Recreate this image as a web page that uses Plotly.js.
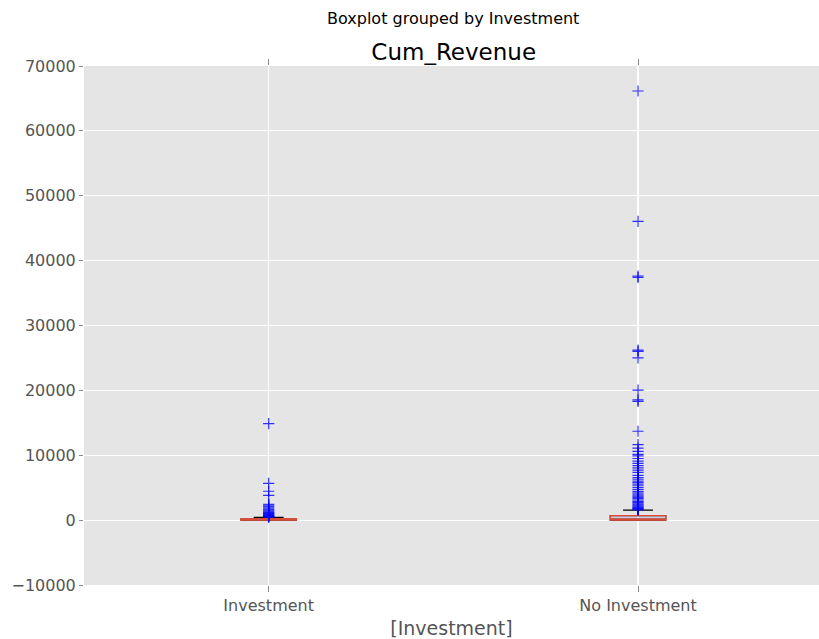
<!DOCTYPE html>
<html>
<head>
<meta charset="utf-8">
<script src="https://cdn.plot.ly/plotly-3.0.1.min.js"></script>
<style>html,body{margin:0;padding:0;background:#fff;}#chart{width:819px;height:639px;}</style>
</head>
<body>
<div id="chart"></div>
<script>
// Categories
const categories = ["Investment", "No Investment"];
// Box statistics (Cum_Revenue)
const q1Values = [0, 0];
const medianValues = [20, 150];
const q3Values = [170, 700];
const lowerFences = [0, 0];
const upperFences = [410, 1550];
// Outliers per category
const outliersInvestment = [450, 500, 560, 620, 700, 780, 860, 950, 1050, 1150, 1250, 1400, 1550, 1700, 1900, 2100, 2300, 2450, 3800, 4450, 5650, 14880];
const outliersNoInvestment = [1600, 1700, 1800, 1900, 2000, 2150, 2300, 2450, 2600, 2750, 2900, 3100, 3300, 3500, 3700, 3900, 4150, 4400, 4700, 5000, 5300, 5550, 5800, 6000, 6300, 6550, 6900, 7350, 7700, 8050, 8400, 8750, 9100, 9500, 9900, 10150, 10600, 11100, 11650, 13700, 18300, 18550, 20050, 25000, 26000, 26200, 37400, 37600, 46050, 66150];
const outlierLists = [outliersInvestment, outliersNoInvestment];
// Axis ticks
const yTickVals = [-10000, 0, 10000, 20000, 30000, 40000, 50000, 60000, 70000];
const yTickText = ["\u221210000", "0", "10000", "20000", "30000", "40000", "50000", "60000", "70000"];

const xPos = categories.map((c, i) => i + 1);
const traces = [];

// Whisker vertical lines (blue)
categories.forEach((c, i) => {
  traces.push({
    type: "scatter", mode: "lines", x: [xPos[i], xPos[i]], y: [q3Values[i], upperFences[i]],
    line: {color: "blue", width: 1}, hoverinfo: "skip", showlegend: false
  });
  traces.push({
    type: "scatter", mode: "lines", x: [xPos[i], xPos[i]], y: [lowerFences[i], q1Values[i]],
    line: {color: "blue", width: 1}, hoverinfo: "skip", showlegend: false
  });
});

// Outliers
categories.forEach((c, i) => {
  traces.push({
    type: "scatter", mode: "markers",
    x: outlierLists[i].map(() => xPos[i]), y: outlierLists[i],
    marker: {symbol: "cross-thin-open", size: 8, color: "rgba(0,0,255,0.8)", line: {color: "rgba(0,0,255,0.8)", width: 1.2}},
    showlegend: false, hoverinfo: "y"
  });
});

// Caps: black box trace with whiskers
traces.push({
  type: "box", x: xPos, q1: q1Values, median: medianValues, q3: q3Values,
  lowerfence: lowerFences, upperfence: upperFences,
  width: 0.15, whiskerwidth: 0.54, boxpoints: false,
  line: {color: "black", width: 1.2}, fillcolor: "rgba(0,0,0,0)", showlegend: false, hoverinfo: "skip"
});
// Box body: red outline with purple median
traces.push({
  type: "box", x: xPos, q1: q1Values, median: medianValues, q3: q3Values,
  lowerfence: q1Values, upperfence: q3Values,
  width: 0.15, whiskerwidth: 0, boxpoints: false,
  line: {color: "#E24A33", width: 1.4}, fillcolor: "rgba(160,160,220,0.3)", showlegend: false
});

const layout = {
  width: 819, height: 639,
  margin: {l: 84, r: 0, t: 66, b: 54},
  paper_bgcolor: "#ffffff", plot_bgcolor: "#E5E5E5",
  font: {family: "DejaVu Sans", color: "#555555", size: 16},
  showlegend: false,
  title: {text: "Cum_Revenue", font: {family: "DejaVu Sans", size: 23, color: "#000000"}, x: 0.554, xanchor: "center", y: 0.918, yanchor: "middle"},
  xaxis: {
    range: [0.5, 2.49], tickvals: xPos, ticktext: categories,
    showgrid: true, gridcolor: "#ffffff", gridwidth: 1.2, zeroline: false,
    ticks: "outside", ticklen: 6, tickcolor: "#888888", mirror: "ticks", showline: false,
    tickfont: {size: 16, color: "#555555"},
    title: {text: "[Investment]", font: {size: 19, color: "#555555"}, standoff: 10}
  },
  yaxis: {
    range: [-10000, 70000], tickvals: yTickVals, ticktext: yTickText,
    showgrid: true, gridcolor: "#ffffff", gridwidth: 1.2, zeroline: false,
    ticks: "outside", ticklen: 4, tickcolor: "#888888", mirror: "ticks", showline: false,
    tickfont: {size: 16, color: "#555555"}
  },
  annotations: [{
    text: "Boxplot grouped by Investment", xref: "x", yref: "paper", x: 1.5, y: 1, yshift: 48,
    showarrow: false, xanchor: "center", yanchor: "middle",
    font: {family: "DejaVu Sans", size: 16, color: "#000000"}
  }]
};

Plotly.newPlot("chart", traces, layout, {displayModeBar: false, staticPlot: true});
</script>
</body>
</html>
